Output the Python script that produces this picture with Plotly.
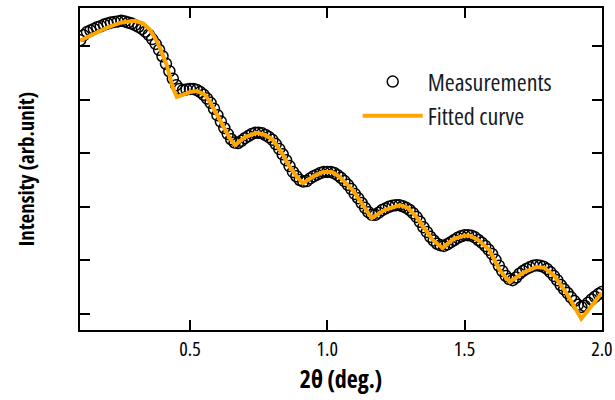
import plotly.graph_objects as go

# Measured reflectivity scan: 2-theta (deg.) and log10 of intensity (arb. units)
meas_2theta = [
    0.1000, 0.1125, 0.1250, 0.1375, 0.1500, 0.1625, 0.1750, 0.1875, 0.2000, 0.2125,
    0.2250, 0.2375, 0.2500, 0.2625, 0.2750, 0.2875, 0.3000, 0.3125, 0.3250, 0.3375,
    0.3500, 0.3625, 0.3750, 0.3875, 0.4000, 0.4125, 0.4250, 0.4375, 0.4500, 0.4625,
    0.4750, 0.4875, 0.5000, 0.5125, 0.5250, 0.5375, 0.5500, 0.5625, 0.5750, 0.5875,
    0.6000, 0.6125, 0.6250, 0.6375, 0.6500, 0.6625, 0.6750, 0.6875, 0.7000, 0.7125,
    0.7250, 0.7375, 0.7500, 0.7625, 0.7750, 0.7875, 0.8000, 0.8125, 0.8250, 0.8375,
    0.8500, 0.8625, 0.8750, 0.8875, 0.9000, 0.9125, 0.9250, 0.9375, 0.9500, 0.9625,
    0.9750, 0.9875, 1.0000, 1.0125, 1.0250, 1.0375, 1.0500, 1.0625, 1.0750, 1.0875,
    1.1000, 1.1125, 1.1250, 1.1375, 1.1500, 1.1625, 1.1750, 1.1875, 1.2000, 1.2125,
    1.2250, 1.2375, 1.2500, 1.2625, 1.2750, 1.2875, 1.3000, 1.3125, 1.3250, 1.3375,
    1.3500, 1.3625, 1.3750, 1.3875, 1.4000, 1.4125, 1.4250, 1.4375, 1.4500, 1.4625,
    1.4750, 1.4875, 1.5000, 1.5125, 1.5250, 1.5375, 1.5500, 1.5625, 1.5750, 1.5875,
    1.6000, 1.6125, 1.6250, 1.6375, 1.6500, 1.6625, 1.6750, 1.6875, 1.7000, 1.7125,
    1.7250, 1.7375, 1.7500, 1.7625, 1.7750, 1.7875, 1.8000, 1.8125, 1.8250, 1.8375,
    1.8500, 1.8625, 1.8750, 1.8875, 1.9000, 1.9125, 1.9250, 1.9375, 1.9500, 1.9625,
    1.9750, 1.9875, 2.0000,
]
meas_log_int = [
    5.11, 5.20, 5.26, 5.29, 5.32, 5.35, 5.37, 5.40, 5.42, 5.44,
    5.45, 5.46, 5.47, 5.46, 5.44, 5.42, 5.39, 5.36, 5.32, 5.27,
    5.21, 5.13, 5.04, 4.93, 4.81, 4.67, 4.53, 4.39, 4.27, 4.20,
    4.18, 4.19, 4.20, 4.20, 4.18, 4.14, 4.09, 4.02, 3.94, 3.83,
    3.71, 3.59, 3.47, 3.36, 3.26, 3.20, 3.19, 3.23, 3.28, 3.32,
    3.36, 3.38, 3.38, 3.37, 3.34, 3.30, 3.25, 3.17, 3.08, 2.98,
    2.87, 2.76, 2.65, 2.57, 2.50, 2.47, 2.48, 2.53, 2.57, 2.60,
    2.63, 2.65, 2.65, 2.65, 2.63, 2.59, 2.54, 2.48, 2.41, 2.33,
    2.24, 2.16, 2.07, 1.98, 1.90, 1.85, 1.85, 1.89, 1.94, 1.97,
    2.00, 2.02, 2.03, 2.03, 2.01, 1.98, 1.94, 1.88, 1.81, 1.72,
    1.62, 1.53, 1.44, 1.37, 1.31, 1.28, 1.27, 1.30, 1.34, 1.38,
    1.42, 1.45, 1.47, 1.47, 1.46, 1.43, 1.38, 1.33, 1.27, 1.20,
    1.12, 1.01, 0.90, 0.80, 0.71, 0.65, 0.63, 0.68, 0.75, 0.80,
    0.84, 0.87, 0.90, 0.91, 0.90, 0.88, 0.84, 0.78, 0.71, 0.63,
    0.54, 0.46, 0.39, 0.31, 0.24, 0.17, 0.13, 0.15, 0.21, 0.27,
    0.32, 0.37, 0.41,
]

# Fitted model curve (log10 intensity)
fit_2theta = [
    0.100, 0.150, 0.200, 0.250, 0.300, 0.330, 0.355, 0.380, 0.391, 0.415,
    0.438, 0.452, 0.500, 0.525, 0.555, 0.573, 0.598, 0.620, 0.645, 0.664,
    0.700, 0.744, 0.773, 0.802, 0.835, 0.864, 0.889, 0.911, 0.947, 0.984,
    1.016, 1.045, 1.093, 1.125, 1.147, 1.162, 1.209, 1.264, 1.293, 1.325,
    1.355, 1.384, 1.420, 1.460, 1.500, 1.520, 1.555, 1.591, 1.627, 1.664,
    1.718, 1.762, 1.791, 1.827, 1.871, 1.900, 1.925, 2.000,
]
fit_log_int = [
    5.10, 5.23, 5.35, 5.44, 5.47, 5.42, 5.30, 5.08, 4.96, 4.65,
    4.22, 4.05, 4.14, 4.16, 4.09, 3.955, 3.71, 3.49, 3.28, 3.15,
    3.30, 3.38, 3.34, 3.25, 3.00, 2.74, 2.56, 2.44, 2.56, 2.65,
    2.65, 2.56, 2.31, 2.07, 1.90, 1.79, 1.94, 2.03, 1.98, 1.81,
    1.59, 1.38, 1.23, 1.40, 1.46, 1.46, 1.36, 1.19, 0.82, 0.60,
    0.78, 0.877, 0.86, 0.71, 0.39, 0.13, -0.09, 0.39,
]

x_ticks = [0.5, 1.0, 1.5, 2.0]
x_tick_text = ["0.5", "1.0", "1.5", "2.0"]

FONT = "Open Sans, Liberation Sans, sans-serif"

meas_int = [10 ** v for v in meas_log_int]
fit_int = [10 ** v for v in fit_log_int]

fig = go.Figure()
fig.add_trace(go.Scatter(
    x=meas_2theta, y=meas_int, mode="markers", name="Measurements",
    marker=dict(symbol="circle-open", size=11, color="black",
                line=dict(color="black", width=1.5)),
))
fig.add_trace(go.Scatter(
    x=fit_2theta, y=fit_int, mode="lines", name="Fitted curve",
    line=dict(color="#FFA500", width=4),
))

axis_common = dict(
    showline=True, linecolor="black", linewidth=2, mirror="ticks",
    ticks="inside", ticklen=10, tickwidth=2, tickcolor="black",
    showgrid=False, zeroline=False, automargin=False,
)

fig.update_layout(
    width=615, height=400,
    margin=dict(l=80, r=13, t=8, b=70, autoexpand=False),
    paper_bgcolor="white", plot_bgcolor="white",
    font=dict(family=FONT, color="black"),
    xaxis=dict(
        range=[0.0995, 2.0005], tickvals=x_ticks, ticktext=x_tick_text,
        tickfont=dict(size=20, family=FONT), ticklabeloverflow="allow",
        title=dict(text="<b>2θ (deg.)</b>", font=dict(size=24, family=FONT), standoff=4),
        **axis_common,
    ),
    yaxis=dict(
        type="log", range=[-0.3, 5.71], dtick=1, showticklabels=False,
        title=dict(text="<b>Intensity (arb.unit)</b>", font=dict(size=21, family=FONT), standoff=38),
        **axis_common,
    ),
    legend=dict(
        x=0.532, y=0.84, xanchor="left", yanchor="top",
        bgcolor="rgba(0,0,0,0)", borderwidth=0,
        font=dict(size=24, family=FONT, color="#141c28"),
        itemwidth=60,
    ),
)

# Narrow letterforms for all labels (Open Sans width axis)
narrow_text = """
document.querySelectorAll('svg text').forEach(function (t) {
    t.style.fontStretch = '75%';
});
"""

fig.write_html("out.html", post_script=narrow_text)
